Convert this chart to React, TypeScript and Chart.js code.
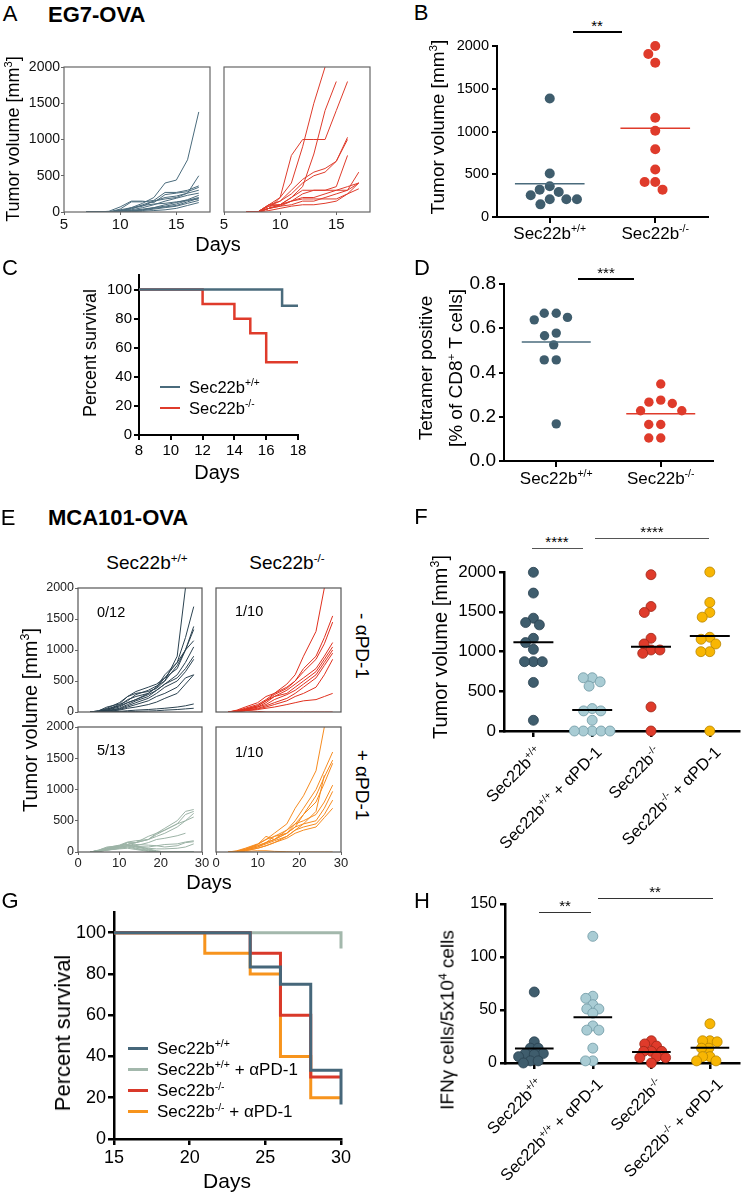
import React, { useEffect, useRef } from 'react';
import { Chart, registerables } from 'chart.js';

Chart.register(...registerables);

const FONT = '"Liberation Sans", Arial, Helvetica, sans-serif';
Chart.defaults.font.family = FONT;
Chart.defaults.color = '#000';
const PAGE_W = 745;

// ================= DATA =================
// A: EG7-OVA tumour growth (days 7..17)
const daysA = [7, 8, 9, 10, 11, 12, 13, 14, 15, 16, 17];
const growthA_wt: (number | null)[][] = [
  [0, 0, 0, 30, 60, 120, 200, 400, 440, 720, 1380],
  [0, 0, 0, 20, 50, 80, 150, 180, 200, 260, 500],
  [0, 0, 0, 40, 140, 140, 160, 270, 270, 300, 360],
  [0, 0, 10, 70, 150, 150, 130, 240, 260, 280, 340],
  [0, 0, 0, 20, 40, 100, 150, 200, 220, 260, 300],
  [0, 0, 0, 10, 30, 60, 100, 150, 190, 230, 260],
  [0, 0, 0, 10, 20, 40, 60, 100, 130, 170, 230],
  [0, 0, 0, 5, 20, 30, 60, 80, 110, 160, 200],
  [0, 0, 0, 0, 10, 30, 50, 70, 90, 140, 190],
  [0, 0, 0, 0, 10, 20, 40, 60, 80, 120, 160],
  [0, 0, 0, 10, 60, 90, 110, 120, 140, 160, 180],
  [0, 0, 0, 0, 5, 10, 20, 30, 50, 90, 130],
];
const growthA_ko: (number | null)[][] = [
  [0, 0, 50, 200, 400, 900, 1500, 2000, null, null, null],
  [0, 0, 100, 200, 780, 1000, 1000, 1000, 1400, 1800, null],
  [0, 0, 50, 100, 200, 350, 800, 1400, 1800, null, null],
  [0, 0, 100, 150, 300, 450, 550, 600, 700, 1030, null],
  [0, 0, 80, 150, 250, 400, 500, 550, 700, 1000, null],
  [0, 0, 50, 100, 150, 250, 300, 300, 350, 780, null],
  [0, 0, 100, 100, 200, 300, 300, 300, 300, 350, 400],
  [0, 0, 80, 100, 150, 200, 200, 250, 300, 300, 550],
  [0, 0, 50, 80, 100, 150, 150, 200, 250, 300, 400],
  [0, 0, 20, 50, 80, 100, 100, 120, 150, 250, 320],
  [0, 0, 50, 80, 150, 180, 180, 180, 180, 250, 400],
];

// B: tumour volume
const volB_wt = [1387, 508, 359, 320, 293, 254, 207, 207, 207, 148];
const volB_ko = [2000, 1906, 1805, 1160, 1008, 793, 555, 410, 410, 320];

// C: survival EG7-OVA
const survC_days_wt = [8, 17, 18];
const survC_wt = [100, 88.9, 88.9];
const survC_days_ko = [8, 12, 14, 15, 16, 18];
const survC_ko = [100, 90, 80, 70, 50, 50];

// D: tetramer positive
const tetD_wt = [0.668, 0.668, 0.649, 0.638, 0.578, 0.566, 0.525, 0.457, 0.457, 0.168];
const tetD_ko = [0.348, 0.275, 0.266, 0.26, 0.227, 0.227, 0.165, 0.165, 0.104, 0.104];

// E: MCA101-OVA growth curves
const daysE = [3, 5, 7, 10, 12, 14, 17, 19, 21, 24, 26, 28];
const growthE_wt: (number | null)[][] = [
  [0, 20, 60, 150, 250, 300, 330, 380, 500, 900, 2000, null],
  [0, 10, 50, 100, 200, 250, 300, 400, 550, 800, 1200, 1700],
  [0, 10, 40, 120, 180, 280, 350, 420, 500, 750, 1000, 1380],
  [0, 20, 80, 130, 250, 330, 400, 450, 550, 700, 1000, 1330],
  [0, 10, 30, 100, 150, 200, 300, 400, 600, 800, 1000, 1150],
  [0, 10, 30, 80, 150, 200, 280, 350, 450, 600, 800, 1050],
  [0, 5, 20, 60, 120, 180, 250, 350, 450, 550, 700, 900],
  [0, 5, 20, 50, 100, 150, 220, 300, 400, 500, 650, 850],
  [0, 5, 15, 40, 80, 120, 180, 250, 300, 400, 550, 600],
  [0, 5, 10, 30, 60, 80, 120, 160, 220, 300, 450, 600],
  [0, 0, 5, 10, 20, 30, 40, 50, 60, 80, 100, 130],
  [0, 0, 0, 5, 10, 10, 15, 20, 30, 40, 50, 60],
];
const growthE_ko: (number | null)[][] = [
  [0, 30, 80, 150, 250, 300, 450, 600, 900, 1300, 2000, null],
  [0, 20, 60, 120, 200, 300, 400, 500, 700, 900, 1200, 1550],
  [0, 20, 50, 100, 180, 280, 380, 500, 650, 850, 1100, 1450],
  [0, 10, 40, 80, 150, 250, 350, 450, 550, 700, 900, 1120],
  [0, 10, 40, 100, 180, 250, 300, 400, 500, 650, 850, 1050],
  [0, 10, 30, 80, 120, 200, 280, 350, 450, 600, 800, 1000],
  [0, 10, 30, 60, 100, 150, 220, 300, 400, 550, 750, 950],
  [0, 5, 20, 50, 80, 120, 180, 250, 300, 400, 600, 850],
  [0, 5, 20, 40, 60, 80, 120, 150, 180, 200, 250, 300],
  [0, 10, 20, 10, 0, 0, 0, 0, 0, 0, 0, 0],
];
const growthE_wtPD1: (number | null)[][] = [
  [0, 30, 80, 100, 120, 150, 200, 300, 380, 500, 650, 680],
  [0, 20, 60, 100, 150, 150, 250, 300, 350, 450, 600, 650],
  [0, 30, 70, 110, 160, 180, 200, 280, 350, 450, 500, 620],
  [0, 20, 50, 100, 120, 150, 200, 250, 300, 400, 500, 560],
  [0, 20, 50, 80, 100, 100, 150, 200, 220, 260, 300, null],
  [0, 20, 40, 80, 100, 90, 80, 100, 120, 130, 160, 180],
  [0, 10, 40, 70, 100, 120, 110, 100, 80, 100, 150, 165],
  [0, 10, 30, 60, 80, 80, 60, 50, 50, 60, 80, 130],
  [0, 20, 60, 100, 120, 80, 40, 10, 0, 0, 0, 0],
  [0, 20, 50, 90, 150, 100, 50, 20, 0, 0, 0, 0],
  [0, 10, 40, 80, 100, 60, 30, 0, 0, 0, 0, 0],
  [0, 10, 30, 60, 80, 50, 20, 0, 0, 0, 0, 0],
  [0, 10, 30, 50, 60, 40, 10, 0, 0, 0, 0, 0],
];
const growthE_koPD1: (number | null)[][] = [
  [0, 10, 50, 120, 200, 300, 450, 700, 900, 1300, 2000, null],
  [0, 10, 40, 100, 150, 250, 350, 500, 700, 1000, 1300, 1600],
  [0, 20, 60, 130, 200, 250, 300, 400, 600, 900, 1200, 1470],
  [0, 10, 40, 120, 250, 200, 350, 450, 600, 800, 1100, 1420],
  [0, 10, 40, 100, 150, 200, 300, 450, 500, 600, 800, 1070],
  [0, 5, 30, 80, 150, 200, 300, 400, 450, 500, 700, 970],
  [0, 5, 30, 80, 130, 180, 250, 350, 400, 450, 600, 830],
  [0, 5, 20, 60, 100, 150, 250, 350, 450, 650, 1230, null],
  [0, 5, 20, 60, 100, 150, 220, 300, 350, 400, 550, 700],
  [0, 5, 10, 20, 20, 10, 5, 0, 0, 0, 0, 0],
];

// F: tumour volume MCA101-OVA
const volF_wt = [1996, 1735, 1419, 1364, 1335, 1166, 1112, 1027, 872, 872, 872, 611, 135];
const volF_wtPD1 = [670, 670, 619, 564, 282, 253, 253, 135, 0, 0, 0, 0, 0];
const volF_ko = [1966, 1566, 1491, 1166, 1095, 1019, 1019, 977, 303, 0];
const volF_koPD1 = [2000, 1617, 1491, 1432, 1179, 1154, 1095, 998, 998, 0];

// G: survival MCA101-OVA
const survG_days_wt = [15, 24, 26, 28, 30];
const survG_wt = [100, 83.3, 75, 33.3, 16.7];
const survG_days_wtPD1 = [15, 30];
const survG_wtPD1 = [100, 92.3];
const survG_days_ko = [15, 24, 26, 28, 30];
const survG_ko = [100, 90, 60, 30, 30];
const survG_days_koPD1 = [15, 21, 24, 26, 28, 30];
const survG_koPD1 = [100, 90, 80, 40, 20, 20];

// H: IFNγ cells
const ifnH_wt = [67, 20, 14, 14, 9, 9, 8, 6, 2, 2, 0];
const ifnH_wtPD1 = [119.5, 63, 61, 55, 51, 51, 47, 35, 31, 31, 14, 2, 2];
const ifnH_ko = [21, 18, 16, 11, 11, 11, 6, 5, 5, 0];
const ifnH_koPD1 = [37, 21, 21, 20, 14, 14, 6, 6, 2, 2];

// tick values
const ticksVol = [0, 500, 1000, 1500, 2000];
const ticksA_x = [5, 10, 15];
const ticksC_x = [8, 10, 12, 14, 16, 18];
const ticksPct = [0, 20, 40, 60, 80, 100];
const ticksD_y = [0, 0.2, 0.4, 0.6, 0.8];
const ticksE_x = [0, 10, 20, 30];
const ticksG_x = [15, 20, 25, 30];
const ticksH_y = [0, 50, 100, 150];

const catsTwo = ['Sec22b+/+', 'Sec22b-/-'];
const catsFour = ['Sec22b+/+', 'Sec22b+/+ + αPD-1', 'Sec22b-/-', 'Sec22b-/- + αPD-1'];
const legendC = ['Sec22b+/+', 'Sec22b-/-'];
const legendG = ['Sec22b+/+', 'Sec22b+/+ + αPD-1', 'Sec22b-/-', 'Sec22b-/- + αPD-1'];

// ================= COLOURS =================
const BLUE = '#3f5d6d';
const BLUE_LINE = '#4a6b7c';
const RED = '#df3b2b';
const LIGHT = '#a9ccd4';
const YELLOW = '#f8b603';
const E_WT = '#2b4250';
const E_KO = '#e0301e';
const E_WTPD = '#9cb3a6';
const E_KOPD = '#f68b1f';
const G_WT = '#46677a';
const G_WTPD = '#a3b8ac';
const G_KO = '#d9392a';
const G_KOPD = '#f7941d';

// ================= HELPERS =================
type Box = { L: number; T: number; R: number; B: number };
type Pad = { l: number; t: number; r: number; b: number };

function axis(o: {
  min: number; max: number; ticks: number[]; font?: number; show?: boolean; tickLen?: number;
  bw?: number; color?: string; fmt?: (v: number) => string; border?: boolean; labelPad?: number; labelColor?: string;
}) {
  const tl = o.tickLen ?? 5;
  return {
    type: 'linear',
    min: o.min,
    max: o.max,
    bounds: 'data',
    afterBuildTicks: (s: any) => { s.ticks = o.ticks.map((v) => ({ value: v })); },
    ticks: {
      display: o.show !== false,
      font: { family: FONT, size: o.font ?? 14 },
      color: o.labelColor ?? '#000',
      padding: o.labelPad ?? 3,
      autoSkip: false,
      maxRotation: 0,
      minRotation: 0,
      callback: (v: any) => (o.fmt ? o.fmt(Number(v)) : String(v)),
    },
    grid: {
      display: true,
      drawOnChartArea: false,
      drawTicks: tl > 0,
      tickLength: tl,
      color: o.color ?? '#000',
      lineWidth: o.bw ?? 2,
    },
    border: { display: o.border !== false, color: o.color ?? '#000', width: o.bw ?? 2 },
  };
}

const framePlugin = (color: string, w: number) => ({
  id: 'frame',
  afterDatasetsDraw(chart: any) {
    const { ctx, chartArea: a } = chart;
    ctx.save();
    ctx.strokeStyle = color;
    ctx.lineWidth = w;
    ctx.strokeRect(a.left, a.top, a.right - a.left, a.bottom - a.top);
    ctx.restore();
  },
});

function lineSets(days: number[], series: (number | null)[][], color: string, width = 1) {
  return series.map((s) => ({
    data: days.map((d, i) => ({ x: d, y: s[i] })),
    borderColor: color,
    borderWidth: width,
    pointRadius: 0,
    fill: false,
    tension: 0,
    spanGaps: false,
  }));
}

function km(days: number[], vals: number[], color: string, w: number) {
  return {
    data: days.map((d, i) => ({ x: d, y: vals[i] })),
    stepped: true,
    borderColor: color,
    borderWidth: w,
    pointRadius: 0,
    fill: false,
    clip: false,
  };
}

// simple beeswarm: horizontal offsets (in data units); d = allowed centre distance in px
function swarm(vals: number[], pxY: number, pxX: number, d: number) {
  const order = vals.map((v, i) => i).sort((a, b) => vals[b] - vals[a]);
  const placed: { x: number; y: number }[] = [];
  const out = new Array(vals.length).fill(0);
  for (const i of order) {
    const y = vals[i] * pxY;
    const cands = [0];
    for (const p of placed) {
      const dy = y - p.y;
      if (Math.abs(dy) < d) {
        const dx = Math.sqrt(d * d - dy * dy);
        cands.push(p.x + dx, p.x - dx);
      }
    }
    cands.sort((a, b) => Math.abs(a) - Math.abs(b) || a - b);
    let best = 0;
    for (const c of cands) {
      if (placed.every((p) => (c - p.x) ** 2 + (y - p.y) ** 2 >= d * d - 0.01)) { best = c; break; }
    }
    placed.push({ x: best, y });
    out[i] = best / pxX;
  }
  return out;
}

function dots(vals: number[], g: number, box: Box, xr: [number, number], yr: [number, number], r: number, fill: string, stroke: string, bw: number, spacing: number) {
  const pxY = (box.B - box.T) / (yr[1] - yr[0]);
  const pxX = (box.R - box.L) / (xr[1] - xr[0]);
  const off = swarm(vals, pxY, pxX, spacing);
  return {
    data: vals.map((v, i) => ({ x: g + off[i], y: v })),
    showLine: false,
    pointRadius: r,
    pointBackgroundColor: fill,
    pointBorderColor: stroke,
    pointBorderWidth: bw,
    clip: false,
  };
}

function meanLine(vals: number[], g: number, half: number, color: string, w: number) {
  const m = vals.reduce((a, b) => a + b, 0) / vals.length;
  return {
    data: [{ x: g - half, y: m }, { x: g + half, y: m }],
    borderColor: color,
    borderWidth: w,
    pointRadius: 0,
    showLine: true,
    clip: false,
  };
}

function Plot({ box, pad, make }: { box: Box; pad: Pad; make: () => any }) {
  const ref = useRef<HTMLCanvasElement>(null);
  const w = box.R - box.L + pad.l + pad.r;
  const h = box.B - box.T + pad.t + pad.b;
  useEffect(() => {
    const cfg = make();
    const o = cfg.options || (cfg.options = {});
    o.responsive = false;
    o.maintainAspectRatio = false;
    o.animation = false;
    o.events = [];
    o.layout = { padding: { top: pad.t, right: pad.r, left: 0, bottom: 0 } };
    o.plugins = { legend: { display: false }, tooltip: { enabled: false }, title: { display: false } };
    const zero = (s: any) => { s.paddingTop = 0; s.paddingBottom = 0; s.paddingLeft = 0; s.paddingRight = 0; };
    o.scales.x.afterFit = (s: any) => { s.height = pad.b; zero(s); };
    o.scales.y.afterFit = (s: any) => { s.width = pad.l; zero(s); };
    const chart = new Chart(ref.current as HTMLCanvasElement, cfg);
    return () => chart.destroy();
  }, []);
  return (
    <canvas
      ref={ref}
      width={w}
      height={h}
      style={{ position: 'absolute', left: box.L - pad.l, top: box.T - pad.t, width: w, height: h }}
    />
  );
}

// rich text: superscripts for genotype and units
const supStyle: React.CSSProperties = { fontSize: '0.62em', position: 'relative', top: '-0.62em' };
function rich(s: string) {
  const parts = s.split(/(\+\/\+|-\/-|\^.)/);
  return parts.map((p, i) => {
    if (p === '+/+' || p === '-/-') return <span key={i} style={supStyle}>{p}</span>;
    if (p.length === 2 && p[0] === '^') return <span key={i} style={supStyle}>{p.slice(1)}</span>;
    return <React.Fragment key={i}>{p}</React.Fragment>;
  });
}

function Txt({ x, y, fs = 16, rot = 0, a = 'c', w = 400, c = '#000', s }: {
  x: number; y: number; fs?: number; rot?: number; a?: 'c' | 'l' | 'r'; w?: number; c?: string; s: string;
}) {
  const base: React.CSSProperties = {
    position: 'absolute', fontFamily: FONT, fontSize: fs, lineHeight: 1, whiteSpace: 'nowrap', color: c, fontWeight: w,
  };
  let st: React.CSSProperties;
  if (a === 'c') st = { ...base, left: x, top: y, transform: `translate(-50%,-50%) rotate(${rot}deg)` };
  else if (a === 'l') st = { ...base, left: x, top: y - fs / 2, transformOrigin: '0 50%', transform: `rotate(${rot}deg)` };
  else st = { ...base, right: PAGE_W - x, top: y - fs / 2, transformOrigin: '100% 50%', transform: `rotate(${rot}deg)` };
  return <div style={st}>{rich(s)}</div>;
}

function HLine({ x1, x2, y, w = 1, c = '#000' }: { x1: number; x2: number; y: number; w?: number; c?: string }) {
  return <div style={{ position: 'absolute', left: x1, top: y - w / 2, width: x2 - x1, height: w, background: c }} />;
}

// ================= LAYOUT =================
const boxA1: Box = { L: 64, T: 67, R: 210, B: 212 };
const boxA2: Box = { L: 224, T: 67, R: 370, B: 212 };
const boxB: Box = { L: 497, T: 46, R: 708, B: 217 };
const boxC: Box = { L: 139, T: 275, R: 298, B: 435 };
const boxD: Box = { L: 504, T: 284, R: 713, B: 461 };
const boxE1: Box = { L: 78, T: 588, R: 202, B: 712 };
const boxE2: Box = { L: 216, T: 588, R: 341, B: 712 };
const boxE3: Box = { L: 78, T: 727, R: 202, B: 852 };
const boxE4: Box = { L: 216, T: 727, R: 341, B: 852 };
const boxF: Box = { L: 504, T: 572, R: 742, B: 731 };
const boxG: Box = { L: 114, T: 912, R: 341, B: 1139 };
const boxH: Box = { L: 505, T: 904, R: 745, B: 1063 };

const catX = (box: Box, n: number, i: number) => box.L + ((i + 0.5) / n) * (box.R - box.L);

// ---------- chart makers ----------
const makeA = (series: (number | null)[][], color: string, showY: boolean) => () => ({
  type: 'line',
  data: { datasets: lineSets(daysA, series, color, 1) },
  options: {
    scales: {
      x: axis({ min: 5, max: 18, ticks: ticksA_x, font: 15, tickLen: 3, bw: 1, color: '#666', border: false, labelPad: 1, labelColor: '#111' }),
      y: axis({ min: 0, max: 2000, ticks: ticksVol, font: 14, show: showY, tickLen: showY ? 3 : 0, bw: 1, color: '#666', border: false, labelPad: 1, labelColor: '#111' }),
    },
  },
  plugins: [framePlugin('#666', 1.2)],
});

const makeB = () => {
  const xr: [number, number] = [0.5, 2.5];
  const yr: [number, number] = [0, 2000];
  return {
    type: 'line',
    data: {
      datasets: [
        meanLine(volB_wt, 1, 0.33, BLUE_LINE, 1.5),
        meanLine(volB_ko, 2, 0.33, RED, 1.5),
        dots(volB_wt, 1, boxB, xr, yr, 5, BLUE, BLUE, 0, 10.6),
        dots(volB_ko, 2, boxB, xr, yr, 5, RED, RED, 0, 10.6),
      ],
    },
    options: {
      scales: {
        x: axis({ min: xr[0], max: xr[1], ticks: [1, 2], show: false, tickLen: 6, bw: 2 }),
        y: axis({ min: 0, max: 2000, ticks: ticksVol, font: 14.5, tickLen: 5, bw: 2, labelPad: 3 }),
      },
    },
  };
};

const makeC = () => ({
  type: 'line',
  data: {
    datasets: [
      km(survC_days_wt, survC_wt, BLUE_LINE, 2.5),
      km(survC_days_ko, survC_ko, RED, 2.5),
    ],
  },
  options: {
    scales: {
      x: axis({ min: 8, max: 18, ticks: ticksC_x, font: 15, tickLen: 5, bw: 2, labelPad: 2 }),
      y: axis({ min: 0, max: 110, ticks: ticksPct, font: 15, tickLen: 5, bw: 2, labelPad: 2 }),
    },
  },
});

const makeD = () => {
  const xr: [number, number] = [0.5, 2.5];
  const yr: [number, number] = [0, 0.8];
  return {
    type: 'line',
    data: {
      datasets: [
        meanLine(tetD_wt, 1, 0.33, BLUE_LINE, 1.5),
        meanLine(tetD_ko, 2, 0.33, RED, 1.5),
        dots(tetD_wt, 1, boxD, xr, yr, 4.7, BLUE, BLUE, 0, 12),
        dots(tetD_ko, 2, boxD, xr, yr, 4.7, RED, RED, 0, 12),
      ],
    },
    options: {
      scales: {
        x: axis({ min: xr[0], max: xr[1], ticks: [1, 2], show: false, tickLen: 6, bw: 2 }),
        y: axis({ min: 0, max: 0.8, ticks: ticksD_y, font: 19, tickLen: 5, bw: 2, labelPad: 3, fmt: (v) => v.toFixed(1) }),
      },
    },
  };
};

const makeE = (series: (number | null)[][], color: string, showX: boolean, showY: boolean) => () => ({
  type: 'line',
  data: { datasets: lineSets(daysE, series, color, 1) },
  options: {
    scales: {
      x: axis({ min: 0, max: 30, ticks: ticksE_x, font: 13, show: showX, tickLen: showX ? 3 : 0, bw: 1, color: '#666', border: false, labelPad: 1, labelColor: '#222' }),
      y: axis({ min: 0, max: 2000, ticks: ticksVol, font: 12.5, show: showY, tickLen: showY ? 3 : 0, bw: 1, color: '#666', border: false, labelPad: 1, labelColor: '#222' }),
    },
  },
  plugins: [framePlugin('#555', 1.2)],
});

const makeF = () => {
  const xr: [number, number] = [0.5, 4.5];
  const yr: [number, number] = [0, 2000];
  const sp = 9;
  return {
    type: 'line',
    data: {
      datasets: [
        meanLine(volF_wt, 1, 0.34, '#000', 2),
        meanLine(volF_wtPD1, 2, 0.34, '#000', 2),
        meanLine(volF_ko, 3, 0.34, '#000', 2),
        meanLine(volF_koPD1, 4, 0.34, '#000', 2),
        dots(volF_wt, 1, boxF, xr, yr, 5, BLUE, '#2a4150', 0.8, sp),
        dots(volF_wtPD1, 2, boxF, xr, yr, 5, LIGHT, '#6f98a3', 0.8, sp),
        dots(volF_ko, 3, boxF, xr, yr, 5, RED, '#9e2617', 0.8, sp),
        dots(volF_koPD1, 4, boxF, xr, yr, 5, YELLOW, '#b88500', 0.8, sp),
      ],
    },
    options: {
      scales: {
        x: axis({ min: xr[0], max: xr[1], ticks: [1, 2, 3, 4], show: false, tickLen: 6, bw: 2.5 }),
        y: axis({ min: 0, max: 2000, ticks: ticksVol, font: 17, tickLen: 5, bw: 2.5, labelPad: 3 }),
      },
    },
  };
};

const makeG = () => ({
  type: 'line',
  data: {
    datasets: [
      km(survG_days_wt, survG_wt, G_WT, 3),
      km(survG_days_ko, survG_ko, G_KO, 3),
      km(survG_days_koPD1, survG_koPD1, G_KOPD, 3),
      km(survG_days_wtPD1, survG_wtPD1, G_WTPD, 3),
    ],
  },
  options: {
    scales: {
      x: axis({ min: 15, max: 30, ticks: ticksG_x, font: 18, tickLen: 6, bw: 2.5, labelPad: 2 }),
      y: axis({ min: 0, max: 110, ticks: ticksPct, font: 18, tickLen: 6, bw: 2.5, labelPad: 2 }),
    },
  },
});

const makeH = () => {
  const xr: [number, number] = [0.5, 4.5];
  const yr: [number, number] = [0, 150];
  const sp = 7.5;
  return {
    type: 'line',
    data: {
      datasets: [
        meanLine(ifnH_wt, 1, 0.33, '#000', 2),
        meanLine(ifnH_wtPD1, 2, 0.33, '#000', 2),
        meanLine(ifnH_ko, 3, 0.33, '#000', 2),
        meanLine(ifnH_koPD1, 4, 0.33, '#000', 2),
        dots(ifnH_wt, 1, boxH, xr, yr, 5, BLUE, '#2a4150', 0.8, sp),
        dots(ifnH_wtPD1, 2, boxH, xr, yr, 5, LIGHT, '#6f98a3', 0.8, sp),
        dots(ifnH_ko, 3, boxH, xr, yr, 5, RED, '#9e2617', 0.8, sp),
        dots(ifnH_koPD1, 4, boxH, xr, yr, 5, YELLOW, '#b88500', 0.8, sp),
      ],
    },
    options: {
      scales: {
        x: axis({ min: xr[0], max: xr[1], ticks: [1, 2, 3, 4], show: false, tickLen: 6, bw: 2.5 }),
        y: axis({ min: 0, max: 150, ticks: ticksH_y, font: 16, tickLen: 5, bw: 2.5, labelPad: 3 }),
      },
    },
  };
};

function Legend({ x, y0, dy, items, colors, fs, lw, sw }: { x: number; y0: number; dy: number; items: string[]; colors: string[]; fs: number; lw: number; sw: number }) {
  return (
    <>
      {items.map((it, i) => (
        <React.Fragment key={i}>
          <HLine x1={x} x2={x + sw} y={y0 + i * dy} w={lw} c={colors[i]} />
          <Txt x={x + sw + 9} y={y0 + i * dy} fs={fs} a="l" s={it} />
        </React.Fragment>
      ))}
    </>
  );
}

function RotCats({ box, cats, fs }: { box: Box; cats: string[]; fs: number }) {
  return (
    <>
      {cats.map((c, i) => (
        <Txt key={i} x={catX(box, cats.length, i) + 5} y={box.B + 18} fs={fs} a="r" rot={-45} s={c} />
      ))}
    </>
  );
}

export default function App() {
  return (
    <div style={{ position: 'absolute', left: 0, top: 0, width: 745, height: 1192, background: '#fff', overflow: 'hidden', fontFamily: FONT }}>
      {/* ---------- A ---------- */}
      <Txt x={10} y={14} fs={22} s="A" />
      <Txt x={48} y={15} fs={22} w={700} a="l" s="EG7-OVA" />
      <Plot box={boxA1} pad={{ l: 46, t: 10, r: 8, b: 22 }} make={makeA(growthA_wt, BLUE_LINE, true)} />
      <Plot box={boxA2} pad={{ l: 4, t: 10, r: 10, b: 22 }} make={makeA(growthA_ko, RED, false)} />
      <Txt x={13} y={139} fs={18} rot={-90} s="Tumor volume [mm^3]" />
      <Txt x={218} y={244} fs={20} s="Days" />

      {/* ---------- B ---------- */}
      <Txt x={421} y={13} fs={22} s="B" />
      <Plot box={boxB} pad={{ l: 60, t: 10, r: 8, b: 10 }} make={makeB} />
      <Txt x={437} y={127} fs={19} rot={-90} s="Tumor volume [mm^3]" />
      <HLine x1={573} x2={622} y={32} w={2} />
      <Txt x={597} y={25} fs={15} s="**" />
      {catsTwo.map((c, i) => (
        <Txt key={i} x={catX(boxB, 2, i)} y={233} fs={17} s={c} />
      ))}

      {/* ---------- C ---------- */}
      <Txt x={10} y={268} fs={22} s="C" />
      <Plot box={boxC} pad={{ l: 44, t: 6, r: 12, b: 26 }} make={makeC} />
      <Txt x={90} y={353} fs={18} rot={-90} s="Percent survival" />
      <Txt x={217} y={472} fs={20} s="Days" />
      <Legend x={160} y0={387} dy={21} items={legendC} colors={[BLUE_LINE, RED]} fs={16.5} lw={2.5} sw={20} />

      {/* ---------- D ---------- */}
      <Txt x={422} y={268} fs={22} s="D" />
      <Plot box={boxD} pad={{ l: 60, t: 12, r: 8, b: 10 }} make={makeD} />
      <Txt x={425} y={368} fs={19} rot={-90} s="Tetramer positive" />
      <Txt x={455} y={368} fs={19} rot={-90} s="[% of CD8^+ T cells]" />
      <HLine x1={578} x2={634} y={279} w={1.5} />
      <Txt x={606} y={272} fs={15} s="***" />
      {catsTwo.map((c, i) => (
        <Txt key={i} x={catX(boxD, 2, i)} y={478} fs={17} s={c} />
      ))}

      {/* ---------- E ---------- */}
      <Txt x={8} y={518} fs={22} s="E" />
      <Txt x={48} y={518} fs={22} w={700} a="l" s="MCA101-OVA" />
      <Txt x={147} y={562} fs={19} s="Sec22b+/+" />
      <Txt x={287} y={562} fs={19} s="Sec22b-/-" />
      <Plot box={boxE1} pad={{ l: 40, t: 8, r: 3, b: 3 }} make={makeE(growthE_wt, E_WT, false, true)} />
      <Plot box={boxE2} pad={{ l: 3, t: 8, r: 3, b: 3 }} make={makeE(growthE_ko, E_KO, false, false)} />
      <Plot box={boxE3} pad={{ l: 40, t: 8, r: 9, b: 20 }} make={makeE(growthE_wtPD1, E_WTPD, true, true)} />
      <Plot box={boxE4} pad={{ l: 3, t: 8, r: 9, b: 20 }} make={makeE(growthE_koPD1, E_KOPD, true, false)} />
      <Txt x={97} y={612} fs={14.5} a="l" s="0/12" />
      <Txt x={235} y={611} fs={14.5} a="l" s="1/10" />
      <Txt x={97} y={750} fs={14.5} a="l" s="5/13" />
      <Txt x={235} y={752} fs={14.5} a="l" s="1/10" />
      <Txt x={30} y={720} fs={20} rot={-90} s="Tumor volume [mm^3]" />
      <Txt x={362} y={646} fs={19} rot={90} s="- αPD-1" />
      <Txt x={362} y={785} fs={19} rot={90} s="+ αPD-1" />
      <Txt x={209} y={882} fs={20} s="Days" />

      {/* ---------- F ---------- */}
      <Txt x={421} y={517} fs={22} s="F" />
      <Plot box={boxF} pad={{ l: 62, t: 12, r: 3, b: 12 }} make={makeF} />
      <Txt x={440} y={647} fs={20} rot={-90} s="Tumor volume [mm^3]" />
      <HLine x1={532} x2={583} y={548} w={1} c="#555" />
      <Txt x={557} y={541} fs={15} s="****" />
      <HLine x1={595} x2={709} y={538} w={1} c="#555" />
      <Txt x={652} y={531} fs={15} s="****" />
      <RotCats box={boxF} cats={catsFour} fs={16.5} />

      {/* ---------- G ---------- */}
      <Txt x={10} y={901} fs={22} s="G" />
      <Plot box={boxG} pad={{ l: 50, t: 6, r: 14, b: 28 }} make={makeG} />
      <Txt x={63} y={1033} fs={22} rot={-90} s="Percent survival" />
      <Txt x={227} y={1180} fs={21} s="Days" />
      <Legend x={128} y0={1048} dy={21.3} items={legendG} colors={[G_WT, G_WTPD, G_KO, G_KOPD]} fs={17} lw={3} sw={20} />

      {/* ---------- H ---------- */}
      <Txt x={422} y={901} fs={22} s="H" />
      <Plot box={boxH} pad={{ l: 50, t: 10, r: 0, b: 12 }} make={makeH} />
      <Txt x={447} y={1020} fs={19} rot={-90} s="IFNγ cells/5x10^4 cells" />
      <HLine x1={539} x2={591} y={912} w={1} c="#333" />
      <Txt x={565} y={905} fs={15} s="**" />
      <HLine x1={598} x2={713} y={898} w={1} c="#333" />
      <Txt x={655} y={891} fs={15} s="**" />
      <RotCats box={boxH} cats={catsFour} fs={16.5} />
    </div>
  );
}
